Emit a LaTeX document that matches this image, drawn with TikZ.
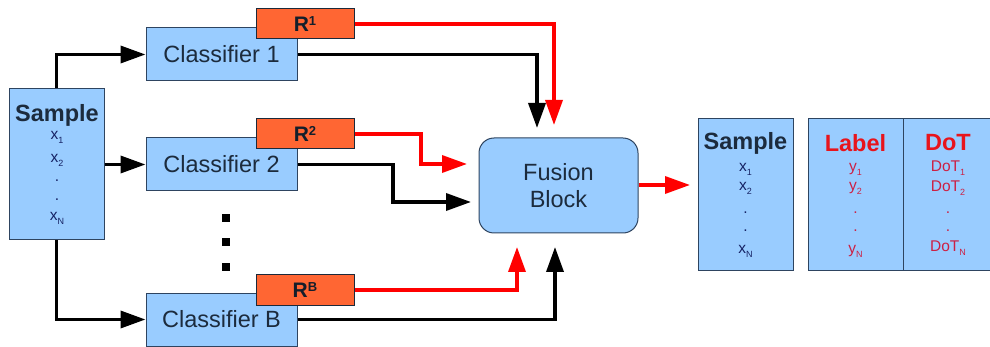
\documentclass[tikz,border=0pt]{standalone}
\usepackage{fontspec}
\setmainfont{Liberation Sans}
\usetikzlibrary{arrows.meta}
\definecolor{boxblue}{HTML}{99CCFF}
\definecolor{boxline}{HTML}{2E4460}
\definecolor{rorange}{HTML}{FF6633}
\definecolor{txtdark}{HTML}{1C2B3D}
\definecolor{lred}{HTML}{FF0000}
\definecolor{labred}{HTML}{E8141C}
\definecolor{itemred}{HTML}{CC2044}
\newcommand{\mysub}[1]{\raisebox{-4pt}{\fontsize{9}{9}\selectfont #1}}
\newcommand{\mysup}[1]{\raisebox{6pt}{\fontsize{13}{13}\selectfont #1}}
\tikzset{
  bluebox/.style={draw=boxline, line width=1pt, fill=boxblue, inner sep=0pt},
  rbox/.style={draw=boxline!60!black, line width=1pt, fill=rorange, inner sep=0pt,
     minimum width=98pt, minimum height=30pt, font=\fontsize{21}{21}\selectfont\bfseries, text=txtdark!70!black},
  clsbox/.style={bluebox, minimum width=151pt, minimum height=53pt, font=\fontsize{23.5}{26}\selectfont, text=txtdark},
  blk/.style={line width=3.5pt, black, -{Triangle[length=25pt,width=17pt]}},
  redarr/.style={line width=3.5pt, lred, -{Triangle[length=25pt,width=17pt]}},
  head/.style={font=\fontsize{23.5}{26}\selectfont\bfseries, inner sep=0pt},
  item/.style={font=\fontsize{15.5}{15}\selectfont, inner sep=0pt, text=txtdark!80!blue},
  ritem/.style={font=\fontsize{15.5}{15}\selectfont, inner sep=0pt, text=itemred},
}
\begin{document}
\begin{tikzpicture}[x=1pt,y=-1pt]
\useasboundingbox (0,0) rectangle (990,347);
% left sample
\node[bluebox, minimum width=95pt, minimum height=151pt] (L) at (56.5,164.5) {};
\node[head, text=txtdark] (Lh) at (57,115) {Sample};
\node[item] (L1) at (57,137) {x\mysub{1}};
\node[item] (L2) at (57,160) {x\mysub{2}};
\node[item] (L3) at (57,181) {.};
\node[item] (L4) at (57,200) {.};
\node[item] (L5) at (57,218) {x\mysub{N}};
% classifiers
\node[clsbox] (C1) at (221.5,54.5) {Classifier 1};
\node[clsbox] (C2) at (221.5,164.5) {Classifier 2};
\node[clsbox] (CB) at (221.5,319.5) {Classifier B};
\node[rbox] (R1) at (305,24) {R\mysup{1}};
\node[rbox] (R2) at (305,134) {R\mysup{2}};
\node[rbox] (RB) at (305,290) {R\mysup{B}};
% vertical dots
\fill (222,214) rectangle (230,222);
\fill (222,238) rectangle (230,246);
\fill (222,263) rectangle (230,271);
% fusion
\node[bluebox, rounded corners=15pt, minimum width=159pt, minimum height=95pt,
      align=center, font=\fontsize{23.5}{27}\selectfont, text=txtdark] (F) at (558.5,185.5) {Fusion\\Block};
% right tables
\node[bluebox, minimum width=95pt, minimum height=152pt] (S) at (745.5,195) {};
\node[bluebox, minimum width=95pt, minimum height=152pt] (LB) at (855.5,195) {};
\node[bluebox, minimum width=87pt, minimum height=152pt] (DB) at (946.5,195) {};
\node[head, text=txtdark] (Sh) at (745.5,143) {Sample};
\node[item] (S1) at (745.5,169) {x\mysub{1}};
\node[item] (S2) at (745.5,188) {x\mysub{2}};
\node[item] (S3) at (745.5,213) {.};
\node[item] (S4) at (745.5,231) {.};
\node[item] (S5) at (745.5,251) {x\mysub{N}};
\node[head, text=labred] (Lbh) at (855.5,143) {Label};
\node[ritem] (Y1) at (855.5,169) {y\mysub{1}};
\node[ritem] (Y2) at (855.5,188) {y\mysub{2}};
\node[ritem] (Y3) at (855.5,213) {.};
\node[ritem] (Y4) at (855.5,231) {.};
\node[ritem] (Y5) at (855.5,251) {y\mysub{N}};
\node[head, text=labred] (Dh) at (948,143) {DoT};
\node[ritem] (D1) at (948,168) {DoT\mysub{1}};
\node[ritem] (D2) at (948,188) {DoT\mysub{2}};
\node[ritem] (D3) at (948,213) {.};
\node[ritem] (D4) at (948,231) {.};
\node[ritem] (D5) at (948,248) {DoT\mysub{N}};
% arrow endpoints
\coordinate (t1) at (537,128);
\coordinate (tr1) at (554,125);
\coordinate (k2) at (421,134);
\coordinate (tr2) at (467,164);
\coordinate (b2) at (393,164.5);
\coordinate (t2) at (471,202);
\coordinate (trB) at (517,247);
\coordinate (tB) at (555,247);
\coordinate (tout) at (690,185);
% connectors
\draw[blk] (L.north) |- (C1.west);
\draw[blk] (L.east) -- (C2.west);
\draw[blk] (L.south) |- (CB.west);
\draw[blk] (C1.east) -| (t1);
\draw[redarr] (R1.east) -| (tr1);
\draw[redarr] (R2.east) -- (k2) |- (tr2);
\draw[blk] (C2.east) -- (b2) |- (t2);
\draw[redarr] (RB.east) -| (trB);
\draw[blk] (CB.east) -| (tB);
\draw[redarr] (F.east |- tout) -- (tout);
\end{tikzpicture}
\end{document}
